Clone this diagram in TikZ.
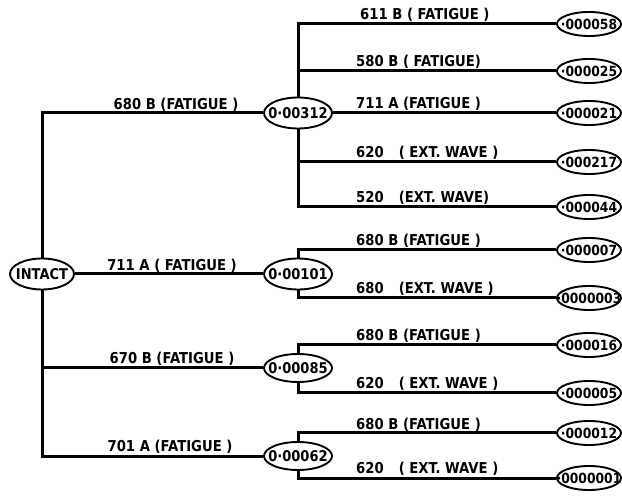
\documentclass[tikz,border=0pt]{standalone}
\usepackage{fontspec}
\setmainfont{DejaVu Sans}
\newfontfamily\narrowfont[FakeStretch=0.88]{DejaVu Sans}
\usetikzlibrary{shapes.geometric}
\newcommand{\zw}[1]{\makebox[0pt]{#1}}
\begin{document}
\begin{tikzpicture}[x=1pt,y=-1pt,
  conn/.style={line width=3pt, line join=miter},
  oval/.style={ellipse, draw, line width=1.9pt, inner sep=0pt, fill=white,
    font=\narrowfont\bfseries\fontsize{14.8}{16}\selectfont},
  mid/.style={oval, minimum width=68pt, minimum height=31pt},
  leaf/.style={oval, minimum width=64pt, minimum height=24pt,
    font=\narrowfont\bfseries\fontsize{14}{15}\selectfont},
  lab/.style={font=\narrowfont\bfseries\fontsize{15}{17}\selectfont, inner sep=0pt},
  sublab/.style={lab, anchor=base west},
  mainlab/.style={lab, anchor=base}]
\useasboundingbox (0,0) rectangle (622,497);

% nodes
\node[mid, minimum width=64pt] (intact) at (42,274) {\zw{INTACT}};
\node[mid] (m1) at (298,113) {\zw{0·00312}};
\node[mid] (m2) at (298,274) {\zw{0·00101}};
\node[mid, minimum height=28pt] (m3) at (298,368) {\zw{0·00085}};
\node[mid, minimum height=28pt] (m4) at (298,456) {\zw{0·00062}};

\node[leaf] (l1)  at (589,24)  {\zw{·000058}};
\node[leaf] (l2)  at (589,71)  {\zw{·000025}};
\node[leaf] (l3)  at (589,113) {\zw{·000021}};
\node[leaf] (l4)  at (589,162) {\zw{·000217}};
\node[leaf] (l5)  at (589,207) {\zw{·000044}};
\node[leaf] (l6)  at (589,250) {\zw{·000007}};
\node[leaf] (l7)  at (589,298) {\zw{·0000003}};
\node[leaf] (l8)  at (589,345) {\zw{·000016}};
\node[leaf] (l9)  at (589,393) {\zw{·000005}};
\node[leaf] (l10) at (589,433) {\zw{·000012}};
\node[leaf] (l11) at (589,478) {\zw{·0000001}};

\coordinate (t3) at (42,368);

% connectors
\draw[conn] (intact.north) |- (m1.west);
\draw[conn] (intact.east) -- (m2.west);
\draw[conn] (intact.south) |- (m4.west);
\draw[conn] (t3) -- (m3.west);

\draw[conn] (m1.north) |- (l1.west);
\draw[conn] (m1.north) |- (l2.west);
\draw[conn] (m1.east) -- (l3.west);
\draw[conn] (m1.south) |- (l4.west);
\draw[conn] (m1.south) |- (l5.west);
\draw[conn] (m2.north) |- (l6.west);
\draw[conn] (m2.south) |- (l7.west);
\draw[conn] (m3.north) |- (l8.west);
\draw[conn] (m3.south) |- (l9.west);
\draw[conn] (m4.north) |- (l10.west);
\draw[conn] (m4.south) |- (l11.west);

% main labels
\node[mainlab] (a1) at (176,110) {680 B (FATIGUE )};
\node[mainlab] (a2) at (172,271) {711 A ( FATIGUE )};
\node[mainlab] (a3) at (172,364) {670 B (FATIGUE )};
\node[mainlab] (a4) at (170,452) {701 A (FATIGUE )};

% sub labels
\node[sublab] (b1)  at (360,20)  {611 B ( FATIGUE )};
\node[sublab] (b2)  at (356,67)  {580 B ( FATIGUE)};
\node[sublab] (b3)  at (356,109) {711 A (FATIGUE )};
\node[sublab] (b4)  at (356,158) {620\quad( EXT. WAVE )};
\node[sublab] (b5)  at (356,203) {520\quad(EXT. WAVE)};
\node[sublab] (b6)  at (356,246) {680 B (FATIGUE )};
\node[sublab] (b7)  at (356,294) {680\quad(EXT. WAVE )};
\node[sublab] (b8)  at (356,341) {680 B (FATIGUE )};
\node[sublab] (b9)  at (356,389) {620\quad( EXT. WAVE )};
\node[sublab] (b10) at (356,429) {680 B (FATIGUE )};
\node[sublab] (b11) at (356,474) {620\quad( EXT. WAVE )};
\end{tikzpicture}
\end{document}
